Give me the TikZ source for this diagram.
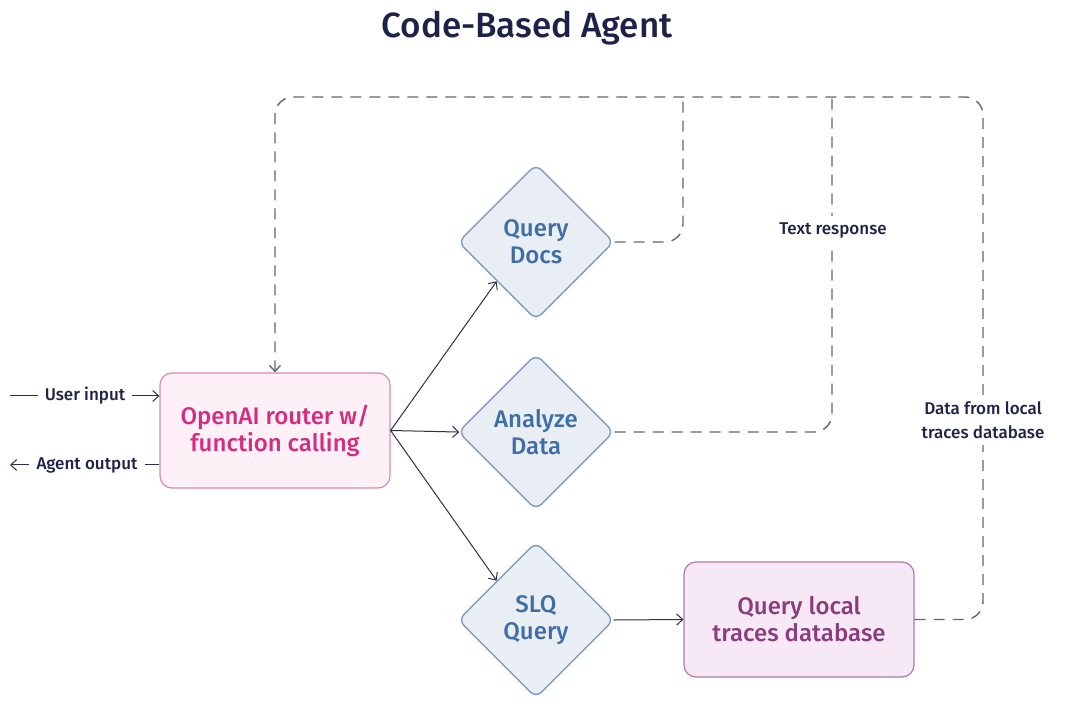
\documentclass[tikz,border=0pt]{standalone}
\usepackage{fontspec}
\setmainfont{Fira Sans}[UprightFont=* Medium, BoldFont=* SemiBold]
\usetikzlibrary{shapes.geometric,arrows.meta}
\definecolor{navy}{HTML}{1E2148}
\definecolor{routerfill}{HTML}{FDF1F7}
\definecolor{routerline}{HTML}{D98AB5}
\definecolor{routertext}{HTML}{D62C7F}
\definecolor{toolfill}{HTML}{E9EEF4}
\definecolor{toolline}{HTML}{7E9DC4}
\definecolor{tooltext}{HTML}{3D6EA6}
\definecolor{dbfill}{HTML}{F6E8F4}
\definecolor{dbline}{HTML}{B07AA7}
\definecolor{dbtext}{HTML}{8B3C7C}
\definecolor{dashc}{HTML}{62666F}
\definecolor{arrowc}{HTML}{2D2F45}

\begin{document}
\begin{tikzpicture}[x=0.5pt,y=-0.5pt,
    box/.style={draw, rounded corners=6pt, line width=0.6pt, minimum width=115pt,
      minimum height=57.5pt, align=center, font=\fontsize{12}{13.5}\selectfont},
    tool/.style={diamond, aspect=1, draw=toolline, fill=toolfill, text=tooltext,
      rounded corners=4pt, minimum size=78pt, inner sep=0pt, line width=0.7pt,
      align=center, font=\fontsize{12}{13.5}\selectfont},
    flow/.style={draw=arrowc, line width=0.5pt, -{Straight Barb[length=3pt,width=5.5pt]}},
    ret/.style={draw=dashc, line width=0.7pt, dash pattern=on 5.5pt off 4pt, rounded corners=9pt},
    lbl/.style={font=\fontsize{8.5}{12}\selectfont, text=navy, fill=white, align=center}]
  \useasboundingbox (0,0) rectangle (1080,704);

  \node[text=navy, font=\fontsize{17.5}{21}\selectfont] (title) at (527,28) {Code-Based Agent};

  \node[box, draw=routerline, fill=routerfill, text=routertext] (router) at (275,430.5)
    {OpenAI router w/\\function calling};
  \node[tool] (docs) at (536,242) {Query\\Docs};
  \node[tool] (analyze) at (536,432) {Analyze\\Data};
  \node[tool] (sql) at (536,620) {SLQ\\Query};
  \node[box, draw=dbline, fill=dbfill, text=dbtext] (db) at (799,619.5)
    {Query local\\traces database};

  \node[lbl] (in) at (85,396) {User input};
  \node[lbl] (out) at (87,465) {Agent output};
  \coordinate (inA) at (10,396);
  \coordinate (outA) at (10,465);
  \coordinate (tr) at (983,97);
  \coordinate (j1) at (683,97);
  \coordinate (j2) at (832,97);

  \draw[arrowc, line width=0.5pt] (inA) -- (in.west);
  \draw[flow] (in.east) -- (router.west |- in);
  \draw[arrowc, line width=0.5pt] (router.west |- out) -- (out.east);
  \draw[flow] (out.west) -- (outA);

  \draw[flow] (router.east) -- (docs.south west);
  \draw[flow, shorten >=-1pt] (router.east) -- (analyze.west);
  \draw[flow] (router.east) -- (sql.north west);
  \draw[flow, shorten <=-0.5pt] (sql.east) -- (db.west);

  \draw[ret, -{Straight Barb[length=3pt,width=5.5pt]}] (db.east) -| (tr)
    -- (router.north |- tr) -- (router.north);
  \draw[ret] (docs.east) -| (j1);
  \draw[ret] (analyze.east) -| (j2);

  \node[lbl] (txt) at (833,230) {Text response};
  \node[lbl] (data) at (983,420) {Data from local\\traces database};
\end{tikzpicture}
\end{document}
